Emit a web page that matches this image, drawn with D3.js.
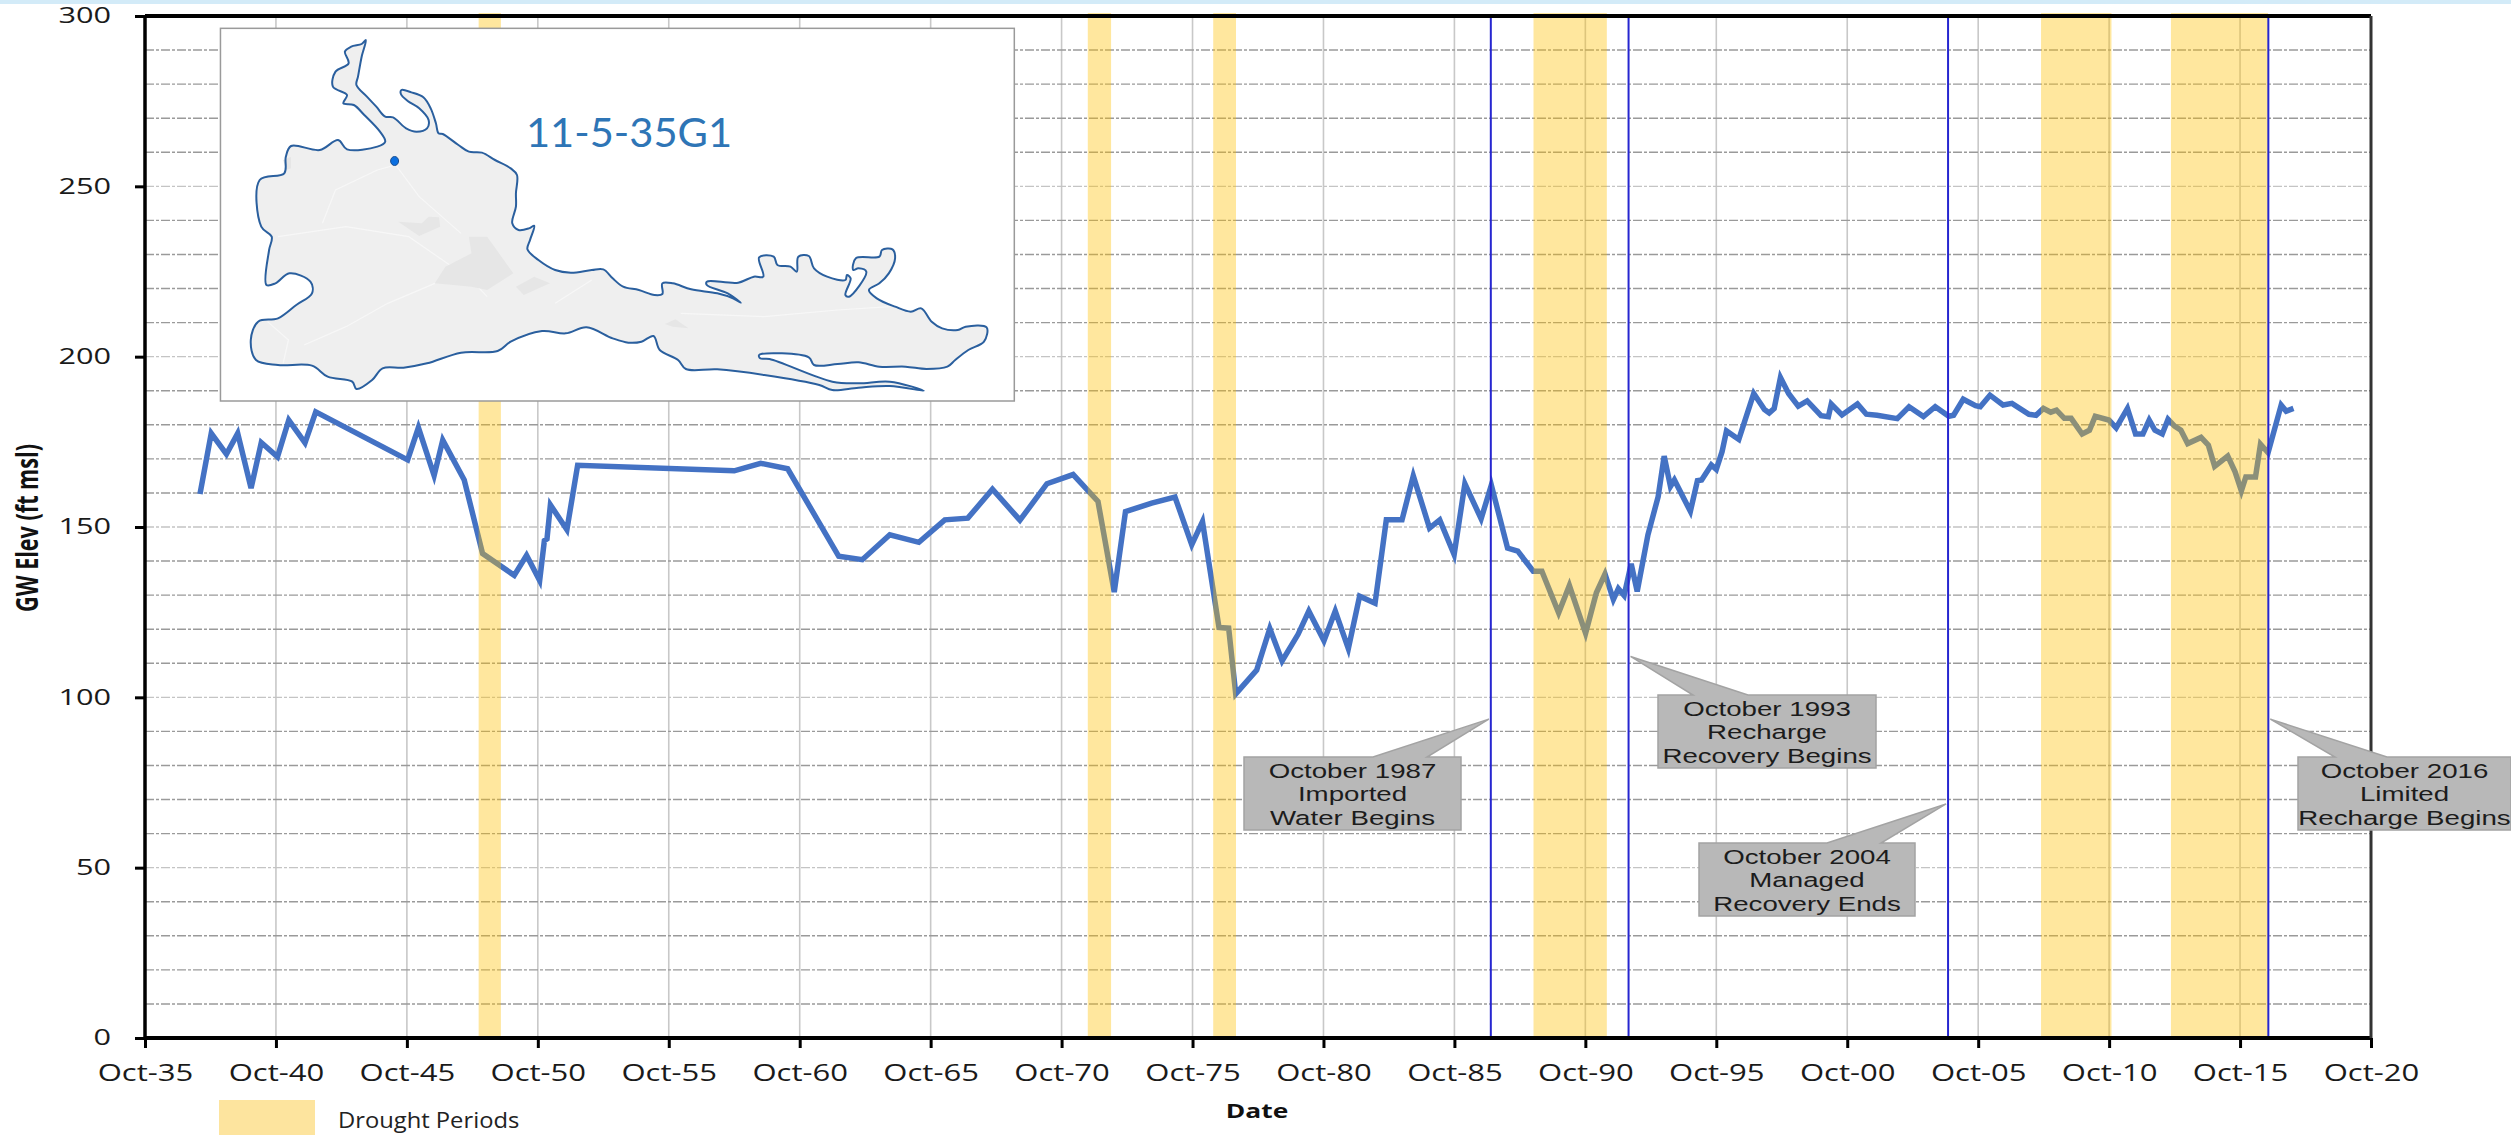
<!DOCTYPE html>
<html>
<head>
<meta charset="utf-8">
<title>GW Elev 11-5-35G1</title>
<script src="https://cdn.jsdelivr.net/npm/d3@7"></script>
<style>
  html, body { margin: 0; padding: 0; background: #fff; }
  svg { display: block; }
</style>
</head>
<body>
<div id="chart"></div>
<script>
// well hydrograph, dates are decimal years
var dates = [1937.85,1938.28,1938.86,1939.29,1939.80,1940.19,1940.81,1941.24,1941.86,1942.27,1945.78,1946.19,1946.79,1947.12,1947.94,1948.64,1949.85,1950.32,1950.82,1951.00,1951.10,1951.23,1951.86,1952.27,1958.25,1959.26,1960.29,1962.24,1963.14,1964.19,1965.30,1966.29,1967.17,1968.11,1969.16,1970.19,1971.19,1972.14,1972.76,1973.19,1974.19,1975.08,1975.72,1976.13,1976.76,1977.13,1977.40,1978.20,1978.70,1979.17,1979.78,1980.19,1980.77,1981.20,1981.70,1982.13,1982.72,1983.15,1983.75,1984.18,1984.80,1985.19,1985.74,1986.15,1986.77,1987.16,1987.78,1988.17,1988.76,1989.09,1989.73,1990.14,1990.76,1991.17,1991.50,1991.82,1992.01,1992.23,1992.50,1992.73,1993.14,1993.53,1993.76,1994.00,1994.15,1994.76,1995.03,1995.19,1995.56,1995.75,1995.97,1996.14,1996.61,1997.18,1997.59,1997.77,1997.96,1998.20,1998.51,1998.88,1999.22,1999.75,2000.03,2000.14,2000.55,2001.14,2001.48,2001.89,2002.66,2003.11,2003.66,2004.11,2004.63,2004.81,2005.18,2005.65,2005.83,2006.20,2006.70,2007.04,2007.69,2007.96,2008.24,2008.52,2008.74,2009.04,2009.30,2009.72,2010.00,2010.22,2010.74,2011.02,2011.45,2011.76,2012.04,2012.28,2012.50,2012.78,2013.00,2013.25,2013.49,2013.75,2014.26,2014.54,2014.78,2015.28,2015.56,2015.80,2015.97,2016.34,2016.53,2016.82,2017.32,2017.51,2017.79];
var elevations = [159.7,177.5,171.4,177.5,161.4,174.8,170.6,181.4,174.7,183.8,169.7,179.2,165.1,175.5,163.8,142.2,135.8,141.7,134.3,146.0,146.5,156.5,149.2,168.1,166.5,168.7,167.1,141.4,140.4,147.7,145.5,152.1,152.6,161.1,152.0,162.7,165.4,157.5,130.9,154.5,157.0,158.8,144.8,151.6,120.5,120.3,101.0,108.0,120.2,110.7,118.5,125.3,116.6,125.3,114.3,129.7,127.6,152.1,152.1,165.0,149.7,152.1,141.9,162.7,152.4,162.3,143.8,142.9,137.0,137.0,124.8,132.8,118.8,130.7,136.2,128.7,131.9,129.9,139.2,131.1,147.7,158.9,170.8,161.9,163.8,154.6,163.6,163.8,168.2,166.9,172.1,178.2,175.7,189.2,184.5,183.5,184.8,193.9,189.2,185.5,187.0,182.7,182.4,186.1,182.9,186.1,183.1,182.8,181.8,185.3,182.4,185.3,182.5,182.8,187.5,185.6,185.3,188.7,185.8,186.3,183.1,182.8,184.8,183.7,184.3,181.9,181.9,177.3,178.4,182.5,181.4,179.1,184.8,177.3,177.3,181.4,178.4,177.3,181.6,179.6,178.4,174.5,176.3,174.0,167.8,170.8,166.2,160.6,164.7,164.7,174.3,171.8,185.8,184.0,184.8];

var droughtStarts = [1948.49,1971.75,1976.54,1988.77,2008.15,2013.11];
var droughtEnds = [1949.34,1972.64,1977.41,1991.57,2010.84,2016.82];
var eventDates = [1987.14,1992.40,2004.60,2016.83];
var eventTipValues = [93.6,112,68.7,93.6];
var eventLabels = [
  ["October 1987","Imported","Water Begins"],
  ["October 1993","Recharge","Recovery Begins"],
  ["October 2004","Managed","Recovery Ends"],
  ["October 2016","Limited","Recharge Begins"]
];

var xTickDates = [1935.75,1940.75,1945.75,1950.75,1955.75,1960.75,1965.75,1970.75,1975.75,1980.75,1985.75,1990.75,1995.75,2000.75,2005.75,2010.75,2015.75,2020.75];
var xTickLabels = ["Oct-35","Oct-40","Oct-45","Oct-50","Oct-55","Oct-60","Oct-65","Oct-70","Oct-75","Oct-80","Oct-85","Oct-90","Oct-95","Oct-00","Oct-05","Oct-10","Oct-15","Oct-20"];
var yTicks = [0,50,100,150,200,250,300];
var yMinorTicks = [10,20,30,40,50,60,70,80,90,100,110,120,130,140,150,160,170,180,190,200,210,220,230,240,250,260,270,280,290];

// basin outline for the inset, traced in map units
var basinOutline = [[298,60],[290,110],[283,170],[280,195],[300,230],[318,260],[335,290],[350,292],[375,325],[395,335],[415,325],[418,300],[400,265],[378,243],[365,222],[366,210],[385,217],[408,232],[422,265],[432,310],[437,340],[445,342],[475,375],[495,395],[520,398],[545,420],[575,445],[587,465],[585,520],[585,560],[578,610],[590,630],[610,625],[620,617],[612,660],[607,688],[628,720],[660,750],[690,758],[730,750],[752,748],[770,775],[790,800],[820,810],[850,825],[865,822],[865,790],[885,790],[920,808],[970,820],[1000,835],[1015,848],[990,820],[950,795],[950,785],[1010,788],[1040,770],[1058,770],[1050,712],[1078,710],[1085,735],[1110,740],[1122,755],[1125,710],[1145,708],[1155,745],[1180,770],[1215,780],[1218,765],[1225,775],[1215,825],[1222,830],[1255,755],[1240,745],[1230,750],[1235,715],[1280,710],[1285,690],[1305,688],[1310,715],[1298,760],[1280,790],[1260,810],[1275,835],[1310,860],[1340,875],[1360,865],[1380,905],[1400,925],[1430,930],[1445,920],[1485,922],[1480,965],[1450,990],[1425,1020],[1410,1040],[1370,1047],[1330,1040],[1280,1040],[1240,1027],[1200,1032],[1155,1035],[1145,1012],[1050,1005],[1052,1015],[1070,1017],[1190,1085],[1240,1090],[1300,1085],[1365,1112],[1300,1098],[1240,1103],[1190,1110],[1165,1095],[1060,1065],[970,1048],[910,1047],[895,1020],[860,990],[848,948],[825,965],[800,968],[770,955],[720,922],[680,940],[635,933],[575,965],[550,993],[480,998],[415,1030],[370,1043],[330,1045],[310,1080],[280,1107],[272,1085],[225,1070],[195,1037],[130,1035],[88,1020],[78,960],[92,905],[130,895],[165,855],[195,820],[192,785],[152,760],[125,790],[108,795],[113,690],[118,650],[98,620],[95,480],[142,460],[145,410],[155,378],[210,390],[245,360],[262,388],[320,380],[335,365],[325,335],[295,285],[275,255],[255,250],[262,225],[235,200],[240,155],[265,130],[258,95],[270,80],[290,72]];
var basinPatches = [
  [[360,605],[405,610],[418,590],[438,592],[440,620],[400,648]],
  [[495,650],[530,650],[580,760],[530,810],[500,800],[430,790],[450,740],[500,700]],
  [[585,800],[620,770],[650,790],[600,825]],
  [[870,912],[890,898],[915,925],[885,920]],
  [[140,420],[155,410],[155,445],[145,450]]
];
var basinRoads = [
  [[130,650],[260,620],[380,650],[500,780],[530,830]],
  [[215,610],[240,510],[320,450],[355,435],[400,530],[480,640]],
  [[180,975],[260,920],[340,850],[430,790]],
  [[660,850],[730,780]],
  [[900,880],[1060,890],[1200,870],[1300,860]],
  [[140,1030],[150,960],[110,905]]
];
var wellLocation = [353,423];

var width = 2511, height = 1135;
var margin = { top: 16, right: 140, bottom: 97, left: 145 };

var svg = d3.select("#chart").append("svg")
  .attr("width", width)
  .attr("height", height);

var x = d3.scaleLinear()
  .domain([1935.75, 2020.75])
  .range([margin.left, width - margin.right]);

var y = d3.scaleLinear()
  .domain([0, 300])
  .range([height - margin.bottom, margin.top]);

svg.append("rect")
  .attr("width", width).attr("height", 4)
  .attr("fill", "#d3ebf8");

// vertical grid every five years
svg.append("g").selectAll("line")
  .data(xTickDates.slice(1, -1))
  .enter().append("line")
  .attr("x1", d => x(d)).attr("x2", d => x(d))
  .attr("y1", y(300)).attr("y2", y(0))
  .attr("stroke", "#c8c8c8")
  .attr("stroke-width", 1.6);

// dashed horizontal grid
svg.append("g").selectAll("line")
  .data(yMinorTicks)
  .enter().append("line")
  .attr("x1", x.range()[0]).attr("x2", x.range()[1])
  .attr("y1", d => y(d)).attr("y2", d => y(d))
  .attr("stroke", d => d % 50 === 0 ? "#c4c4c4" : "#9a9a9a")
  .attr("stroke-width", 1.4)
  .attr("stroke-dasharray", "9,2,3,2");

var line = d3.line()
  .x(d => x(d[0]))
  .y(d => y(d[1]));

svg.append("path")
  .datum(d3.zip(dates, elevations))
  .attr("fill", "none")
  .attr("stroke", "#4472c4")
  .attr("stroke-width", 5.5)
  .attr("stroke-linejoin", "miter")
  .attr("d", line);

// drought bands sit over the line, that is what turns it grey
svg.append("g").selectAll("rect")
  .data(d3.zip(droughtStarts, droughtEnds))
  .enter().append("rect")
  .attr("x", d => x(d[0]))
  .attr("width", d => x(d[1]) - x(d[0]))
  .attr("y", y(300) - 3)
  .attr("height", y(0) - y(300) + 5)
  .attr("fill", "#ffc000")
  .attr("fill-opacity", 0.38);

svg.append("g").selectAll("line")
  .data(eventDates)
  .enter().append("line")
  .attr("x1", d => x(d)).attr("x2", d => x(d))
  .attr("y1", y(300)).attr("y2", y(0))
  .attr("stroke", "#2626d0")
  .attr("stroke-width", 2);

// axes
var xAxis = d3.axisBottom(x)
  .tickValues(xTickDates)
  .tickFormat((d, i) => xTickLabels[i])
  .tickSize(10)
  .tickPadding(8);

var yAxis = d3.axisLeft(y)
  .tickValues(yTicks)
  .tickSize(10)
  .tickPadding(0);

var gx = svg.append("g")
  .attr("transform", "translate(0," + y(0) + ")")
  .call(xAxis);

gx.select(".domain").attr("stroke", "#000").attr("stroke-width", 4).attr("d", "M" + x.range()[0] + ",0H" + x.range()[1]);
gx.selectAll(".tick line").attr("stroke", "#000").attr("stroke-width", 3);
gx.selectAll(".tick text")
  .attr("font-family", "'Open Sans', sans-serif")
  .attr("font-size", 23)
  .attr("fill", "#1a1a1a")
  .attr("y", 0).attr("dy", 0)
  .attr("transform", "translate(0,43) scale(1.35,1)");

var gy = svg.append("g")
  .attr("transform", "translate(" + x(1935.75) + ",0)")
  .call(yAxis);

gy.select(".domain").attr("stroke", "#000").attr("stroke-width", 3.5).attr("d", "M0," + y(0) + "V" + y(300));
gy.selectAll(".tick line").attr("stroke", "#000").attr("stroke-width", 3);
gy.selectAll(".tick text")
  .attr("font-family", "'Open Sans', sans-serif")
  .attr("font-size", 21)
  .attr("fill", "#1a1a1a")
  .attr("x", 0)
  .attr("transform", "translate(-34,0) scale(1.46,1)");

svg.append("line")
  .attr("x1", x.range()[0]).attr("x2", x.range()[1])
  .attr("y1", y(300)).attr("y2", y(300))
  .attr("stroke", "#000").attr("stroke-width", 4);

svg.append("line")
  .attr("x1", x.range()[1]).attr("x2", x.range()[1])
  .attr("y1", y(300)).attr("y2", y(0))
  .attr("stroke", "#333").attr("stroke-width", 3);

// axis titles
svg.append("text")
  .attr("transform", "translate(38,528) rotate(-90) scale(0.72,1)")
  .attr("text-anchor", "middle")
  .attr("font-family", "'Open Sans', sans-serif")
  .attr("font-weight", 700)
  .attr("font-size", 30)
  .attr("fill", "#111")
  .text("GW Elev (ft msl)");

svg.append("text")
  .attr("transform", "translate(1257,1118) scale(1.32,1)")
  .attr("text-anchor", "middle")
  .attr("font-family", "'Open Sans', sans-serif")
  .attr("font-weight", 700)
  .attr("font-size", 20)
  .attr("fill", "#111")
  .text("Date");

// legend
svg.append("rect")
  .attr("x", 219).attr("y", 1100)
  .attr("width", 96).attr("height", 35)
  .attr("fill", "#fde49e");

svg.append("text")
  .attr("transform", "translate(338,1128) scale(1.08,1)")
  .attr("font-family", "'Open Sans', sans-serif")
  .attr("font-size", 22)
  .attr("fill", "#222")
  .text("Drought Periods");

// callouts, box layout per event
var calloutBoxes = [
  { x: 1244, y: 757, w: 217, base: [1373, 1427] },
  { x: 1658, y: 695, w: 218, base: [1693, 1748] },
  { x: 1699, y: 843, w: 216, base: [1827, 1881] },
  { x: 2298, y: 757, w: 213, base: [2335, 2387] }
];
var calloutHeight = 73;

calloutBoxes.forEach(function(box, i) {
  var g = svg.append("g");
  var tip = [x(eventDates[i]) + (i === 0 || i === 2 ? -2 : 2), y(eventTipValues[i])];
  var outline = [
    [box.x, box.y], [box.base[0], box.y], tip, [box.base[1], box.y],
    [box.x + box.w, box.y], [box.x + box.w, box.y + calloutHeight], [box.x, box.y + calloutHeight]
  ];
  g.append("path")
    .attr("d", d3.line()(outline) + "Z")
    .attr("fill", "#b8b8b8")
    .attr("stroke", "#a3a3a3")
    .attr("stroke-width", 1.5);

  g.selectAll("text")
    .data(eventLabels[i])
    .enter().append("text")
    .attr("transform", (d, j) => "translate(" + (box.x + box.w / 2) + "," + (box.y + 21 + j * 23.3) + ") scale(1.42,1)")
    .attr("text-anchor", "middle")
    .attr("font-family", "'Liberation Sans', Arial, sans-serif")
    .attr("font-size", 19.5)
    .attr("fill", "#1c1c1c")
    .text(d => d);
});

// inset map
var inset = svg.append("g");
var mapX = d3.scaleLinear().domain([0, 1568]).range([210, 1030]);
var mapY = d3.scaleLinear().domain([0, 1170]).range([20, 410]);
var mapLine = d3.line().x(d => mapX(d[0])).y(d => mapY(d[1]));
var basinLine = d3.line().x(d => mapX(d[0])).y(d => mapY(d[1])).curve(d3.curveCatmullRomClosed.alpha(0.5));

inset.append("rect")
  .attr("x", mapX(20)).attr("y", mapY(25))
  .attr("width", mapX(1538) - mapX(20))
  .attr("height", mapY(1143) - mapY(25))
  .attr("fill", "#fff")
  .attr("stroke", "#9a9a9a")
  .attr("stroke-width", 1.5);

inset.append("path")
  .attr("d", basinLine(basinOutline))
  .attr("fill", "#efefef");

inset.selectAll(".road")
  .data(basinRoads)
  .enter().append("path")
  .attr("class", "road")
  .attr("d", mapLine)
  .attr("fill", "none")
  .attr("stroke", "#f7f7f7")
  .attr("stroke-width", 1.2);

inset.selectAll(".patch")
  .data(basinPatches)
  .enter().append("path")
  .attr("class", "patch")
  .attr("d", d => mapLine(d) + "Z")
  .attr("fill", "#e6e6e6");

inset.append("path")
  .attr("d", basinLine(basinOutline))
  .attr("fill", "none")
  .attr("stroke", "#2a5f9e")
  .attr("stroke-width", 2);

inset.append("ellipse")
  .attr("cx", mapX(wellLocation[0])).attr("cy", mapY(wellLocation[1]))
  .attr("rx", 4).attr("ry", 4.5)
  .attr("fill", "#0b6fe0")
  .attr("stroke", "#1d4f8f");

inset.append("text")
  .attr("transform", "translate(526,147) scale(1.04,1)")
  .attr("font-family", "Lato, 'Open Sans', sans-serif")
  .attr("font-size", 40)
  .attr("fill", "#2e75b6")
  .text("11-5-35G1");
</script>
</body>
</html>
